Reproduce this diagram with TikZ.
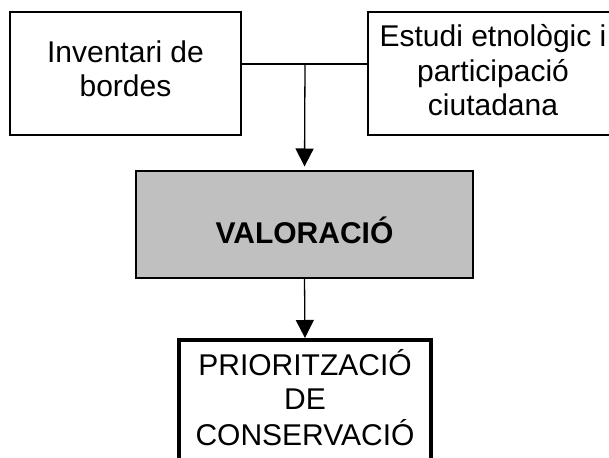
\documentclass[tikz,border=0pt]{standalone}
\usepackage{fontspec}
\setmainfont{Liberation Sans}
\usetikzlibrary{arrows.meta}
\newcommand{\boxtext}[2]{\raisebox{#1}[\height][\depth]{\begin{tabular}{@{}c@{}}#2\end{tabular}}}
\definecolor{boxgray}{HTML}{C0C0C0}
\begin{document}
\begin{tikzpicture}[x=1pt,y=-1pt,
  every node/.style={font=\fontsize{30}{34.5}\selectfont, inner sep=0pt, outer sep=0pt},
  thinbox/.style={draw, line width=1.3pt, rectangle},
  conn/.style={line width=1.3pt},
  arr/.style={conn, -{Triangle[length=18pt,width=18pt]}}]
\useasboundingbox (0,0) rectangle (609,457);
\node[thinbox, minimum width=231pt, minimum height=123pt] (inv) at (125.5,73.5)
  {\boxtext{1pt}{Inventari de\\bordes}};
\node[thinbox, minimum width=250pt, minimum height=123pt] (est) at (493,73.5)
  {\boxtext{-1pt}{Estudi etnològic i\\participació\\ciutadana}};
\node[thinbox, fill=boxgray, minimum width=337pt, minimum height=107pt] (val) at (304.5,224.5)
  {\boxtext{-10.5pt}{\bfseries VALORACIÓ}};
\node[draw, line width=4pt, minimum width=252pt, minimum height=140pt, anchor=north] (prio) at (305,340)
  {\boxtext{7.4pt}{PRIORITZACIÓ\\DE\\CONSERVACIÓ}};
\coordinate (junc) at (305,64);
\draw[conn] (junc -| inv.east) -- (junc -| est.west);
\draw[arr, shorten >=4.5pt] (junc) -- (val.north);
\draw[arr, shorten >=2pt] (val.south) -- (prio.north);
\end{tikzpicture}
\end{document}
